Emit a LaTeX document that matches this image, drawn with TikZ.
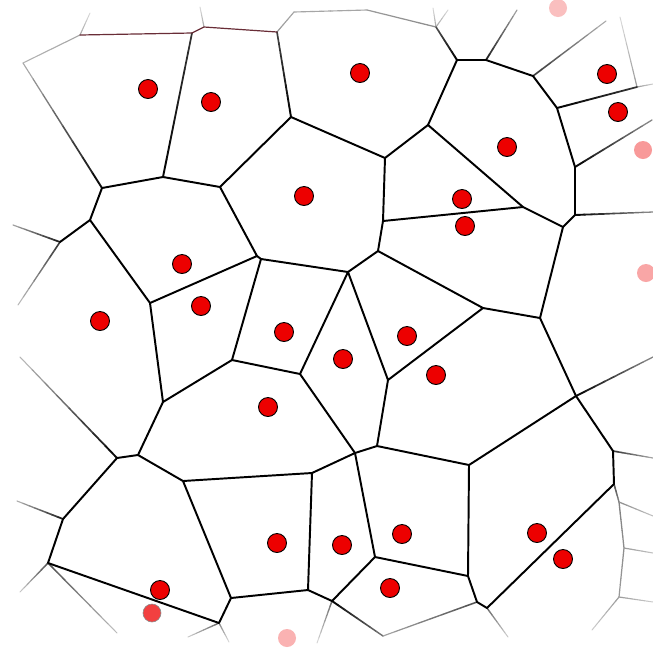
\documentclass[tikz,border=0pt]{standalone}
\usetikzlibrary{calc}
\definecolor{dotred}{RGB}{237,0,0}
\definecolor{topline}{RGB}{105,45,55}
\tikzset{
  edge/.style={draw=black, line width=1.95pt, line cap=round, line join=round},
  tline/.style={draw=topline, line width=1.2pt, line cap=round},
  site/.style={circle, fill=dotred, draw=black, line width=0.9pt, inner sep=0pt, minimum size=19pt},
  fsite/.style={circle, inner sep=0pt, minimum size=18pt}
}
\newcommand{\fadeedge}[4]{%
  \foreach \k in {0,...,7}{%
    \pgfmathsetmacro{\pa}{\k/8}%
    \pgfmathsetmacro{\pb}{(\k+1)/8}%
    \pgfmathtruncatemacro{\cc}{#3+(#4-#3)*(\k+0.5)/8}%
    \pgfmathsetmacro{\ww}{0.7+1.25*\cc/100}%
    \draw[line cap=round, line width=\ww pt, draw=black!\cc] ($(#1)!\pa!(#2)$) -- ($(#1)!\pb!(#2)$);
  }}
\begin{document}
\begin{tikzpicture}[x=1pt,y=-1pt]
\useasboundingbox (0,0) rectangle (653,649);
\fill[white] (0,0) rectangle (653,649);
% vertices
\coordinate (P1) at (23,63);
\coordinate (P2) at (80,35);
\coordinate (P2u) at (90,13);
\coordinate (P3) at (192,33);
\coordinate (P4) at (204,27);
\coordinate (P4u) at (200,7);
\coordinate (P5) at (277,32);
\coordinate (P6) at (294,12);
\coordinate (P7) at (367,10);
\coordinate (P8) at (436,27);
\coordinate (P8a) at (433,8);
\coordinate (P8b) at (448,10);
\coordinate (P9) at (457,60);
\coordinate (P10) at (486,60);
\coordinate (P10u) at (517,10);
\coordinate (P11) at (533,76);
\coordinate (P11u) at (606,21);
\coordinate (P12) at (557,108);
\coordinate (P13) at (637,87);
\coordinate (P13u) at (620,17);
\coordinate (P13r) at (653,84);
\coordinate (P14) at (575,167);
\coordinate (P14r) at (652,120);
\coordinate (P15) at (575,215);
\coordinate (P15r) at (653,212);
\coordinate (P16) at (563,227);
\coordinate (P17) at (523,207);
\coordinate (P18) at (428,125);
\coordinate (P19) at (385,158);
\coordinate (P20) at (291,117);
\coordinate (P21) at (220,187);
\coordinate (P22) at (163,177);
\coordinate (P23) at (102,188);
\coordinate (P24) at (90,220);
\coordinate (P25) at (60,242);
\coordinate (P25a) at (13,225);
\coordinate (P25b) at (18,305);
\coordinate (P26) at (150,303);
\coordinate (P27) at (257,256);
\coordinate (P28) at (261,259);
\coordinate (P29) at (348,272);
\coordinate (P30) at (378,251);
\coordinate (P31) at (383,221);
\coordinate (P32) at (483,308);
\coordinate (P33) at (540,318);
\coordinate (P34) at (576,396);
\coordinate (P34r) at (653,357);
\coordinate (P35) at (613,451);
\coordinate (P35r) at (653,458);
\coordinate (P36) at (614,484);
\coordinate (P37) at (469,465);
\coordinate (P38) at (388,380);
\coordinate (P39) at (377,446);
\coordinate (P40) at (355,453);
\coordinate (P41) at (300,374);
\coordinate (P42) at (232,360);
\coordinate (P43) at (163,402);
\coordinate (P44) at (138,455);
\coordinate (P45) at (117,458);
\coordinate (P45a) at (20,357);
\coordinate (P46) at (63,519);
\coordinate (P46a) at (17,501);
\coordinate (P47) at (48,563);
\coordinate (P47a) at (20,592);
\coordinate (P47b) at (117,633);
\coordinate (P48) at (219,623);
\coordinate (P48a) at (188,637);
\coordinate (P48b) at (229,642);
\coordinate (P49) at (231,598);
\coordinate (P50) at (183,481);
\coordinate (P51) at (312,473);
\coordinate (P52) at (308,590);
\coordinate (P53) at (332,601);
\coordinate (P53a) at (317,643);
\coordinate (P54) at (375,557);
\coordinate (P55) at (468,576);
\coordinate (P56) at (477,602);
\coordinate (P57) at (487,608);
\coordinate (P57a) at (508,637);
\coordinate (P58) at (383,636);
\coordinate (C1) at (619,502);
\coordinate (C2) at (624,548);
\coordinate (C3) at (619,597);
\coordinate (C4) at (592,630);
\coordinate (C1r) at (653,516);
\coordinate (C2r) at (653,553);
\coordinate (C3r) at (653,602);
% faded outer edges
\fadeedge{P23}{P1}{100}{30}
\fadeedge{P1}{P2}{30}{35}
\fadeedge{P2}{P2u}{35}{15}
\fadeedge{P4}{P4u}{35}{15}
\fadeedge{P5}{P6}{40}{35}
\fadeedge{P6}{P7}{35}{35}
\fadeedge{P7}{P8}{40}{45}
\fadeedge{P8}{P8a}{35}{15}
\fadeedge{P8}{P8b}{35}{15}
\fadeedge{P9}{P8}{100}{70}
\fadeedge{P20}{P5}{100}{75}
\fadeedge{P22}{P3}{100}{80}
\fadeedge{P10}{P10u}{90}{35}
\fadeedge{P11}{P11u}{80}{30}
\fadeedge{P13}{P13u}{40}{15}
\fadeedge{P13}{P13r}{40}{20}
\fadeedge{P12}{P13}{100}{80}
\fadeedge{P14}{P14r}{100}{45}
\fadeedge{P15}{P15r}{100}{45}
\fadeedge{P25}{P25a}{90}{35}
\fadeedge{P25}{P25b}{80}{25}
\fadeedge{P45}{P45a}{100}{25}
\fadeedge{P46}{P46a}{90}{30}
\fadeedge{P47}{P47a}{70}{20}
\fadeedge{P47}{P47b}{70}{25}
\fadeedge{P48}{P48a}{60}{20}
\fadeedge{P48}{P48b}{50}{15}
\fadeedge{P53}{P53a}{60}{15}
\fadeedge{P53}{P58}{100}{55}
\fadeedge{P56}{P58}{70}{35}
\fadeedge{P57}{P57a}{60}{20}
\fadeedge{P36}{C1}{70}{50}
\fadeedge{C1}{C2}{50}{45}
\fadeedge{C2}{C3}{45}{40}
\fadeedge{C3}{C4}{40}{20}
\fadeedge{C1}{C1r}{45}{25}
\fadeedge{C2}{C2r}{40}{25}
\fadeedge{C3}{C3r}{40}{20}
\fadeedge{P34}{P34r}{100}{45}
\fadeedge{P35}{P35r}{80}{35}
% top reddish line
\draw[tline] (P2) -- (P3) -- (P4) -- (P5);
% inner edges
\draw[edge] (P9) -- (P10) -- (P11) -- (P12) -- (P14) -- (P15) -- (P16) -- (P17) -- (P18) -- (P9);
\draw[edge] (P18) -- (P19) -- (P31) -- (P17);
\draw[edge] (P19) -- (P20) -- (P21) -- (P22) -- (P23) -- (P24) -- (P25);
\draw[edge] (P24) -- (P26) -- (P27) -- (P21);
\draw[edge] (P27) -- (P28) -- (P29) -- (P30) -- (P31);
\draw[edge] (P28) -- (P42) -- (P43) -- (P26);
\draw[edge] (P43) -- (P44) -- (P45) -- (P46) -- (P47) -- (P48) -- (P49) -- (P50) -- (P44);
\draw[edge] (P50) -- (P51) -- (P52) -- (P49);
\draw[edge] (P51) -- (P40) -- (P41) -- (P42);
\draw[edge] (P41) -- (P29) -- (P38) -- (P32) -- (P30);
\draw[edge] (P32) -- (P33) -- (P16);
\draw[edge] (P33) -- (P34) -- (P35) -- (P36);
\draw[edge] (P34) -- (P37) -- (P39) -- (P38);
\draw[edge] (P39) -- (P40) -- (P54) -- (P53) -- (P52);
\draw[edge] (P54) -- (P55) -- (P37);
\draw[edge] (P55) -- (P56) -- (P57) -- (P36);
% sites
\node[site] (s1) at (148,89) {};
\node[site] (s2) at (211,102) {};
\node[site] (s3) at (360,73) {};
\node[site] (s4) at (507,147) {};
\node[site] (s5) at (607,74) {};
\node[site] (s6) at (618,112) {};
\node[site] (s7) at (304,196) {};
\node[site] (s8) at (462,199) {};
\node[site] (s9) at (465,226) {};
\node[site] (s10) at (182,264) {};
\node[site] (s11) at (201,306) {};
\node[site] (s12) at (100,321) {};
\node[site] (s13) at (284,332) {};
\node[site] (s14) at (343,359) {};
\node[site] (s15) at (407,336) {};
\node[site] (s16) at (436,375) {};
\node[site] (s17) at (268,407) {};
\node[site] (s18) at (277,543) {};
\node[site] (s19) at (342,545) {};
\node[site] (s20) at (402,534) {};
\node[site] (s21) at (537,533) {};
\node[site] (s22) at (563,559) {};
\node[site] (s23) at (160,590) {};
\node[site] (s24) at (390,588) {};
\node[fsite, fill=dotred!75, draw=black!45, line width=0.6pt] (s25) at (152,613) {};
\node[fsite, fill=dotred!30] (s26) at (287,638) {};
\node[fsite, fill=dotred!25] (s27) at (558,8) {};
\node[fsite, fill=dotred!40] (s28) at (643,150) {};
\node[fsite, fill=dotred!35] (s29) at (646,273) {};
\end{tikzpicture}
\end{document}
